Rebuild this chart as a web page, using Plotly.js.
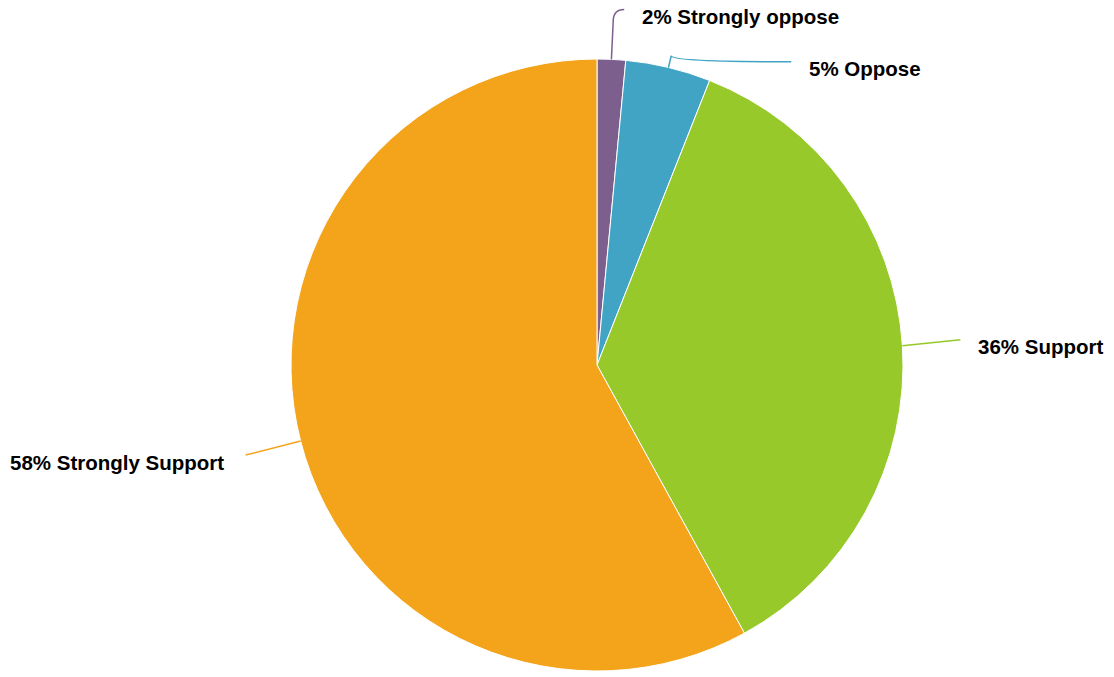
<!DOCTYPE html>
<html>
<head>
<meta charset="utf-8">
<script src="https://cdn.plot.ly/plotly-3.0.1.min.js"></script>
<style>
html,body{margin:0;padding:0;background:#fff;}
#chart{width:1114px;height:677px;}
</style>
</head>
<body>
<div id="chart"></div>
<script>
// Data
const categories = ["Strongly oppose", "Oppose", "Support", "Strongly Support"];
const values = [1.5, 4.5, 36, 58];
const colors = ["#7d5f8e", "#41a4c4", "#97c92a", "#f4a41a"];

// Leader-line styling: radial length, then end offset (dx, dy) from elbow
const radialLen = [38, 12, 0, 0];
const endDx = [11, 120, 58, -55];
const endDy = [-12, 6, -6, 14];

const W = 1114, H = 677;
const cx = 597, cy = 365, R = 306;

const total = values.reduce((a, b) => a + b, 0);
const shapes = [];
const annotations = [];
let cum = 0;
values.forEach((v, i) => {
  const mid = (cum + v / 2) / total * 2 * Math.PI;
  cum += v;
  const px = cx + R * Math.sin(mid), py = cy - R * Math.cos(mid);
  const ex = cx + (R + radialLen[i]) * Math.sin(mid), ey = cy - (R + radialLen[i]) * Math.cos(mid);
  const right = Math.sin(mid) >= 0;
  const lx = ex + endDx[i];
  const ly = ey + endDy[i];
  const toP = (x, y) => (x / W).toFixed(5) + "," + (1 - y / H).toFixed(5);
  const path = radialLen[i] > 0
    ? "M" + toP(px, py) + " L" + toP(ex, ey) + " Q" + toP(ex, ly) + " " + toP(lx, ly)
    : "M" + toP(px, py) + " L" + toP(lx, ly);
  shapes.push({
    type: "path", xref: "paper", yref: "paper",
    path: path,
    line: {color: colors[i], width: 1.5}
  });
  const pct = Math.round(v / total * 100);
  annotations.push({
    xref: "paper", yref: "paper",
    x: (lx + (right ? 16 : -20)) / W, y: 1 - (ly + 7) / H,
    xanchor: right ? "left" : "right", yanchor: "middle",
    text: "<b>" + pct + "% " + categories[i] + "</b>", showarrow: false,
    font: {family: "Liberation Sans, Arial, sans-serif", size: 20.5, color: "#000"}
  });
});

const trace = {
  type: "pie",
  labels: categories,
  values: values,
  sort: false,
  direction: "clockwise",
  rotation: 0,
  textinfo: "none",
  hoverinfo: "label+percent",
  marker: {colors: colors, line: {color: "#ffffff", width: 1}},
  domain: {x: [(cx - R) / W, (cx + R) / W], y: [(H - cy - R) / H, (H - cy + R) / H]}
};

Plotly.newPlot("chart", [trace], {
  width: W, height: H,
  margin: {l: 0, r: 0, t: 0, b: 0},
  showlegend: false,
  paper_bgcolor: "#ffffff",
  shapes: shapes,
  annotations: annotations
}, {displayModeBar: false, staticPlot: true});
</script>
</body>
</html>
